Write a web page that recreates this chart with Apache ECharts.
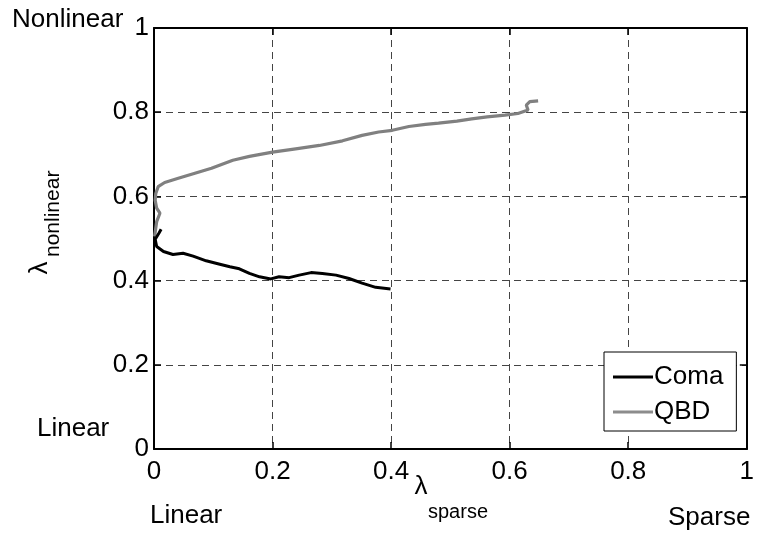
<!DOCTYPE html>
<html>
<head>
<meta charset="utf-8">
<script src="https://cdn.jsdelivr.net/npm/echarts@6/dist/echarts.min.js"></script>
<style>html,body{margin:0;padding:0;background:#fff}#c{width:757px;height:537px}</style>
</head>
<body>
<div id="c"></div>
<script>
// ---- data ----
var xTicks = [0, 0.2, 0.4, 0.6, 0.8, 1];
var yTicks = [0, 0.2, 0.4, 0.6, 0.8, 1];
var seriesNames = ['Coma', 'QBD'];
var comaX = [0.012,0.008,0.002,0.0045,0.016,0.032,0.049,0.066,0.088,0.111,0.128,0.144,0.161,0.178,0.197,0.211,0.228,0.245,0.265,0.284,0.307,0.329,0.351,0.374,0.399];
var comaY = [0.522,0.512,0.498,0.481,0.469,0.462,0.465,0.458,0.447,0.439,0.433,0.428,0.417,0.409,0.404,0.409,0.407,0.413,0.419,0.417,0.413,0.405,0.394,0.384,0.380];
var qbdX = [0.001,0.0045,0.010,0.0045,0.002,0.003,0.007,0.018,0.041,0.069,0.097,0.133,0.161,0.200,0.239,0.279,0.318,0.351,0.379,0.402,0.430,0.458,0.480,0.511,0.536,0.562,0.592,0.614,0.631,0.628,0.634,0.648];
var qbdY = [0.505,0.540,0.560,0.572,0.591,0.607,0.623,0.633,0.643,0.655,0.667,0.686,0.695,0.705,0.713,0.721,0.732,0.745,0.753,0.757,0.766,0.771,0.774,0.779,0.784,0.789,0.793,0.797,0.805,0.817,0.825,0.827];

function pairs(xs, ys){ return xs.map(function(x,i){ return [x, ys[i]]; }); }

var FONT = "'Liberation Sans', Arial, sans-serif";
var chart = echarts.init(document.getElementById('c'), null, {renderer:'canvas'});

function axisBase(pos){
  return {
    type:'value', min:0, max:1, interval:0.2, position:pos,
    axisLine:{show:true, onZero:false, lineStyle:{color:'#000', width:2}},
    axisTick:{show:true, inside:true, length:7, lineStyle:{color:'#000', width:1.5}},
    splitLine:{show:false},
    axisLabel:{show:false}
  };
}
var xMain = axisBase('bottom');
xMain.splitLine = {show:true, lineStyle:{color:'#444', width:1, type:[7,5]}};
xMain.axisLabel = {show:true, fontSize:26, fontFamily:FONT, color:'#000', margin:10,
  formatter:function(v){ return xTicks.indexOf(+v.toFixed(1))>=0 ? String(+v.toFixed(1)) : ''; }};
var yMain = axisBase('left');
yMain.splitLine = {show:true, lineStyle:{color:'#444', width:1, type:[7,5]}};
yMain.axisLabel = {show:true, fontSize:26, fontFamily:FONT, color:'#000', margin:5,
  formatter:function(v){ return yTicks.indexOf(+v.toFixed(1))>=0 ? String(+v.toFixed(1)) : ''; }};

chart.setOption({
  animation:false,
  backgroundColor:'#fff',
  grid:{left:154, right:7, top:28, bottom:88, containLabel:false},
  xAxis:[xMain, axisBase('top')],
  yAxis:[yMain, axisBase('right')],
  legend:{
    orient:'vertical', left:604, top:352,
    data:seriesNames,
    icon:'rect',
    backgroundColor:'#fff', borderColor:'#000', borderWidth:1,
    padding:[12,13,6,9], itemGap:9, itemWidth:40, itemHeight:3,
    textStyle:{fontSize:26, fontFamily:FONT, color:'#000', padding:[0,0,0,-4]},
    z:10
  },
  series:[
    {name:seriesNames[0], type:'line', data:pairs(comaX, comaY), showSymbol:false, symbol:'none',
     lineStyle:{color:'#000', width:3}, itemStyle:{color:'#000'}, z:3},
    {name:seriesNames[1], type:'line', data:pairs(qbdX, qbdY), showSymbol:false, symbol:'none',
     lineStyle:{color:'#808080', width:3.2}, itemStyle:{color:'#8c8c8c'}, z:2}
  ],
  graphic:[
    {type:'text', left:12, top:7, style:{text:'Nonlinear', font:'26px '+FONT, fill:'#000'}},
    {type:'text', left:37, top:416, style:{text:'Linear', font:'26px '+FONT, fill:'#000'}},
    {type:'text', left:150, top:503, style:{text:'Linear', font:'26px '+FONT, fill:'#000'}},
    {type:'text', left:668, top:505, style:{text:'Sparse', font:'26px '+FONT, fill:'#000'}},
    {type:'text', x:421, y:487, style:{text:'λ', font:'26px '+FONT, fill:'#000', textAlign:'center', textVerticalAlign:'middle', align:'center', verticalAlign:'middle'}},
    {type:'text', x:428, y:512, style:{text:'sparse', font:'20px '+FONT, fill:'#000', textAlign:'left', textVerticalAlign:'middle', align:'left', verticalAlign:'middle'}},
    {type:'text', x:40, y:268, rotation:Math.PI/2, style:{text:'λ', font:'26px '+FONT, fill:'#000', textAlign:'center', textVerticalAlign:'middle', align:'center', verticalAlign:'middle'}},
    {type:'text', x:53, y:257, rotation:Math.PI/2, style:{text:'nonlinear', font:'21px '+FONT, fill:'#000', textAlign:'left', textVerticalAlign:'middle', align:'left', verticalAlign:'middle'}}
  ]
});
</script>
</body>
</html>
